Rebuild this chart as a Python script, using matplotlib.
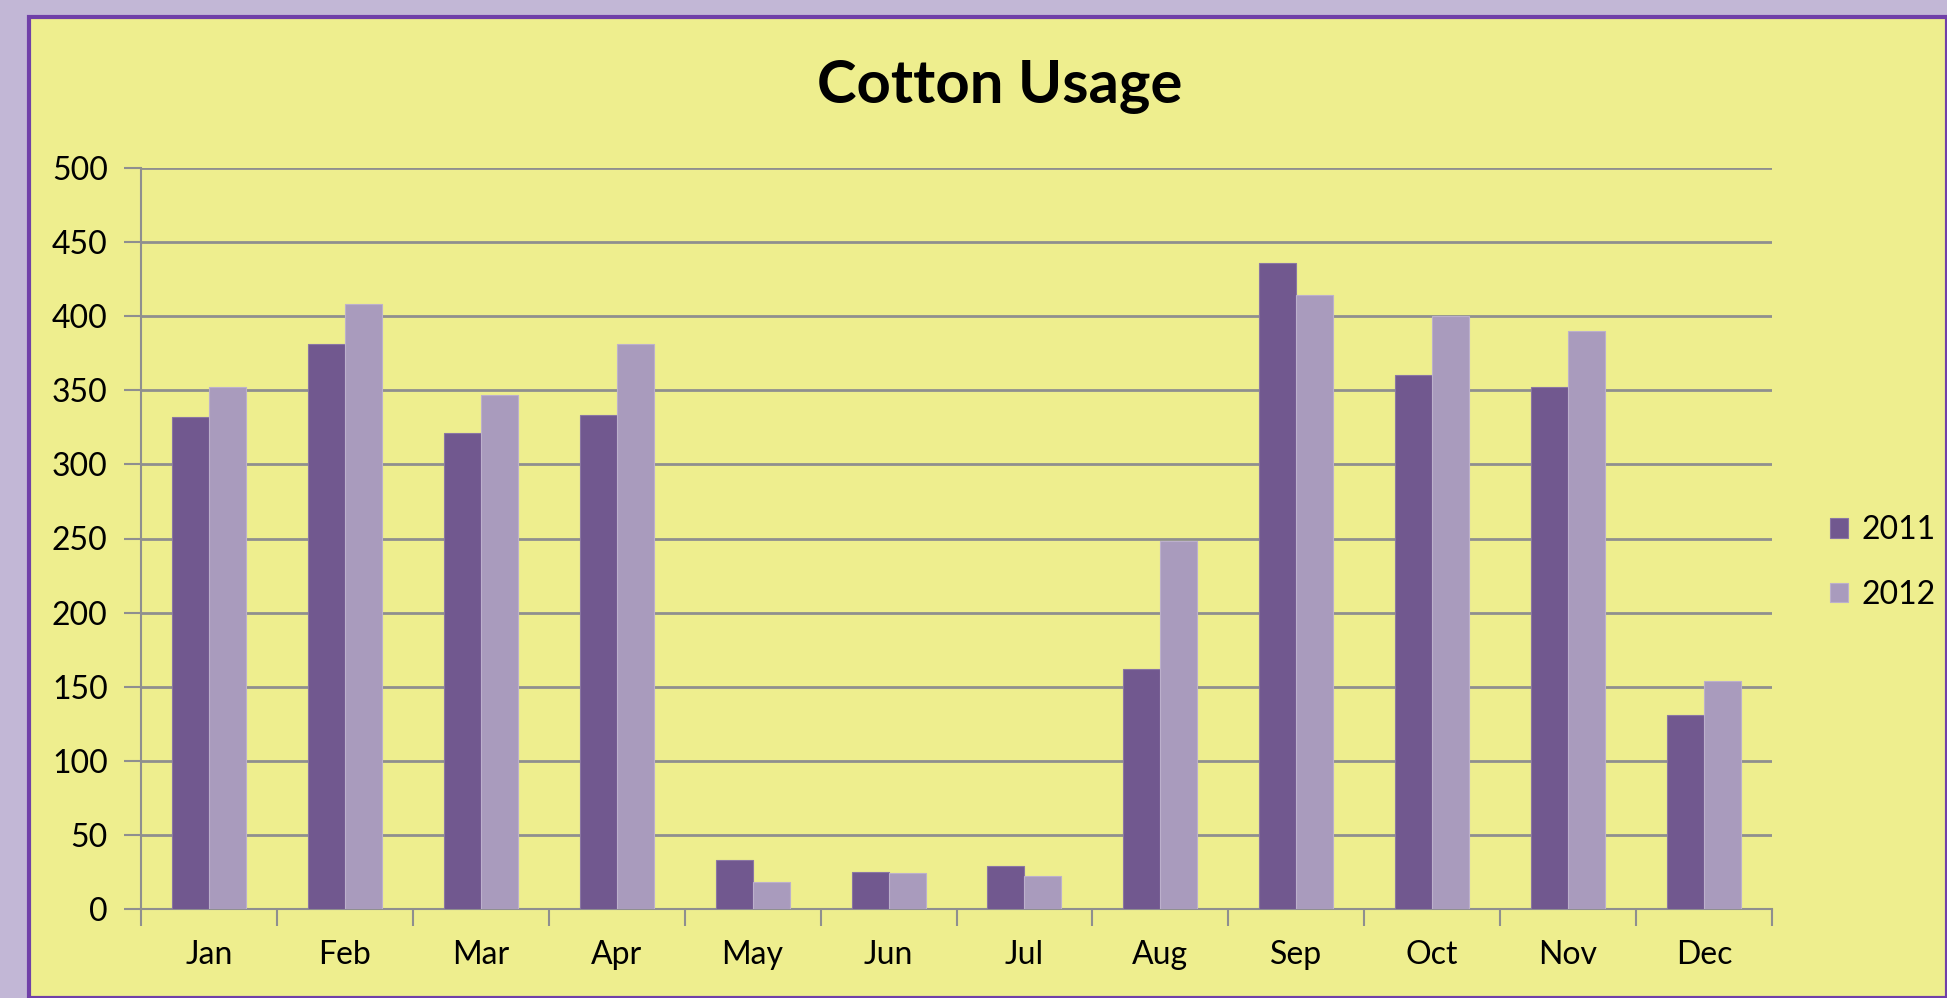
import matplotlib.pyplot as plt
from matplotlib.patches import Rectangle
import numpy as np

months = ['Jan', 'Feb', 'Mar', 'Apr', 'May', 'Jun', 'Jul', 'Aug', 'Sep', 'Oct', 'Nov', 'Dec']
usage_2011 = [332, 381, 321, 333, 33, 25, 29, 162, 436, 360, 352, 131]
usage_2012 = [352, 408, 347, 381, 18, 24, 22, 248, 414, 400, 390, 154]
series_labels = ['2011', '2012']
y_ticks = [0, 50, 100, 150, 200, 250, 300, 350, 400, 450, 500]

plt.rcParams['font.family'] = ['Lato', 'DejaVu Sans']

W, H = 1947, 998
fig = plt.figure(figsize=(W / 100, H / 100), dpi=100)
fig.patch.set_facecolor('#c2b7d6')

# yellow chart area with purple frame
fig.patches.append(Rectangle((29 / W, 0), 1 - 29 / W, 1 - 17 / H,
                             transform=fig.transFigure, facecolor='#eeee8e',
                             edgecolor='#7040a8', linewidth=3, zorder=-5))

ax = fig.add_axes([141 / W, 1 - 909 / H, (1772 - 141) / W, (909 - 168) / H])
ax.set_zorder(2)
ax.set_facecolor('none')

x = np.arange(len(months))
w = 0.272
ax.bar(x - w / 2, usage_2011, w, color='#71588f', edgecolor='#8a76a3', linewidth=0.8,
       label=series_labels[0], zorder=3)
ax.bar(x + w / 2, usage_2012, w, color='#a99bbd', edgecolor='#bcb0cc', linewidth=0.8,
       label=series_labels[1], zorder=3)

ax.set_xlim(-0.5, len(months) - 0.5)
ax.set_ylim(0, 500)
ax.set_yticks(y_ticks)
ax.yaxis.grid(True, color='#8f8f8f', linewidth=2, zorder=1)
ax.set_axisbelow(True)

ax.set_xticks(x)
ax.set_xticklabels(months)
ax.set_xticks(np.arange(-0.5, len(months)), minor=True)
ax.tick_params(axis='x', which='major', length=0, pad=22, labelsize=23)
ax.tick_params(axis='x', which='minor', length=12, width=1.5, color='#8f8f8f', direction='out')
ax.tick_params(axis='y', length=12, width=1.5, color='#8f8f8f', labelsize=23, pad=12)

for s in ['top', 'right']:
    ax.spines[s].set_visible(False)
for s in ['left', 'bottom']:
    ax.spines[s].set_color('#8f8f8f')
    ax.spines[s].set_linewidth(1.5)

fig.text(1000 / W, 1 - 87 / H, 'Cotton Usage', ha='center', va='center',
         fontsize=43, fontweight='bold', zorder=3)

leg = ax.legend(loc='center left', bbox_to_anchor=(1830 / W, 1 - 562.5 / H),
                bbox_transform=fig.transFigure, frameon=False, fontsize=23,
                borderpad=0, borderaxespad=0, handlelength=0.57, handleheight=0.57,
                handletextpad=0.41, labelspacing=1.08)

fig.savefig('out.png', dpi=100, facecolor=fig.get_facecolor())
